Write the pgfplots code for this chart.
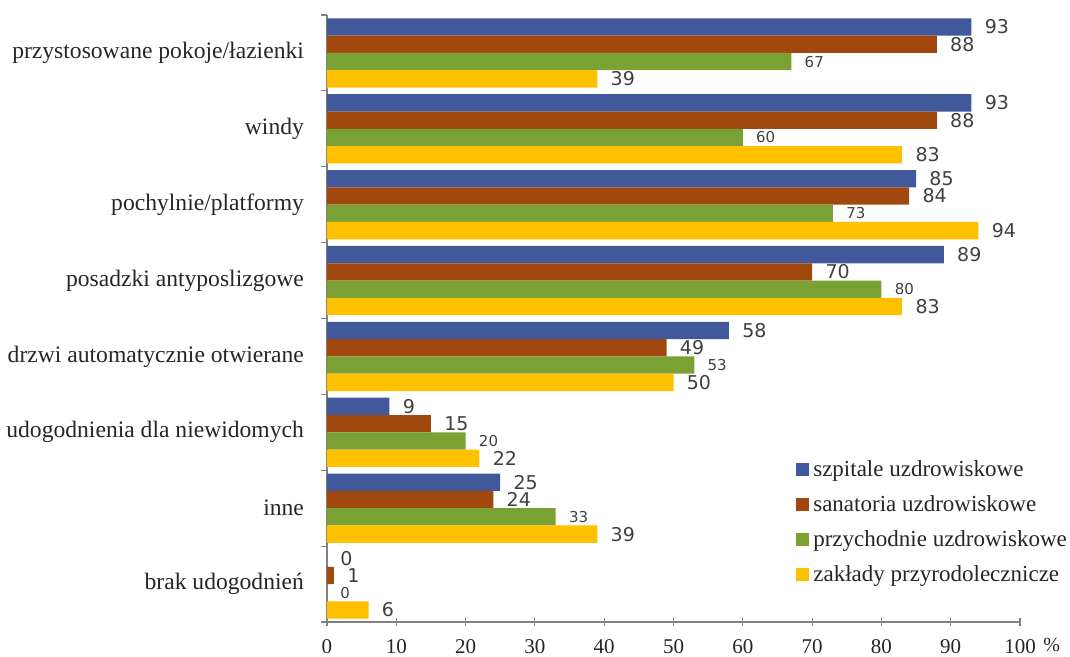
\documentclass[border=0pt]{standalone}
\usepackage{fontspec}
\setmainfont{Liberation Serif}
\newfontfamily\valfont{DejaVu Sans}
\usepackage{pgfplots}
\pgfplotsset{compat=1.18}
\definecolor{cblue}{RGB}{65,88,155}
\definecolor{cbrown}{RGB}{160,72,13}
\definecolor{cgreen}{RGB}{122,161,52}
\definecolor{cyellow}{RGB}{255,192,0}
\definecolor{axgray}{RGB}{130,130,130}
\begin{document}
\begin{tikzpicture}
\useasboundingbox (-163.5pt,-17.5pt) rectangle (371.5pt,311pt);
\begin{axis}[
  at={(0,0)}, anchor=south west,
  scale only axis, width=346.5pt, height=303.5pt,
  clip=false,
  xbar, bar width=0.228,
  xmin=0, xmax=100, ymin=-0.5, ymax=7.5, y dir=reverse,
  xtick={0,10,...,100},
  ytick={0,...,7},
  yticklabels={przystosowane pokoje/łazienki, windy, pochylnie/platformy, posadzki antyposlizgowe, drzwi automatycznie otwierane, udogodnienia dla niewidomych, inne, brak udogodnień},
  minor ytick={-0.5,0.5,...,7.5},
  axis x line*=bottom, axis y line*=left,
  axis line style={draw=axgray, line width=0.6pt, -},
  tick align=outside,
  major tick length=4pt, minor tick length=3pt,
  major y tick style={draw=none},
  minor y tick style={draw=axgray, line width=0.6pt},
  major x tick style={draw=axgray, line width=0.6pt, yshift=2pt},
  /pgf/number format/assume math mode=true,
  yticklabel style={font=\fontsize{11.8}{13}\selectfont, xshift=-4pt, text=black!85},
  xticklabel style={font=\fontsize{10.5}{12}\selectfont, text=black!85, yshift=-1pt},
  point meta=x,
  nodes near coords,
  every node near coord/.append style={font=\valfont\fontsize{9.5}{10}\selectfont, text=black!75, anchor=west, xshift=5.5pt, inner sep=1pt},
  legend style={at={(rel axis cs:0.668,0.28)}, anchor=north west, draw=none, fill=none, font=\fontsize{11.5}{13}\selectfont, text=black!85, row sep=4pt},
  legend cell align=left,
  legend image code/.code={\fill[#1] (0pt,-3pt) rectangle (6.5pt,3.5pt);},
]
\addplot[fill=cblue, draw=none, bar shift=-0.342] coordinates {(93,0) (93,1) (85,2) (89,3) (58,4) (9,5) (25,6) (0,7)};
\addplot[fill=cbrown, draw=none, bar shift=-0.114] coordinates {(88,0) (88,1) (84,2) (70,3) (49,4) (15,5) (24,6) (1,7)};
\addplot[fill=cgreen, draw=none, bar shift=0.114, every node near coord/.append style={font=\valfont\fontsize{7.5}{8}\selectfont}] coordinates {(67,0) (60,1) (73,2) (80,3) (53,4) (20,5) (33,6) (0,7)};
\addplot[fill=cyellow, draw=none, bar shift=0.342] coordinates {(39,0) (83,1) (94,2) (83,3) (50,4) (22,5) (39,6) (6,7)};
\legend{szpitale uzdrowiskowe, sanatoria uzdrowiskowe, przychodnie uzdrowiskowe, zakłady przyrodolecznicze}
\node[anchor=west, font=\fontsize{10}{12}\selectfont, text=black!85, inner sep=0pt] at (rel axis cs:1,0) [xshift=11.5pt, yshift=-11.5pt] {\%};
\end{axis}
\end{tikzpicture}
\end{document}
